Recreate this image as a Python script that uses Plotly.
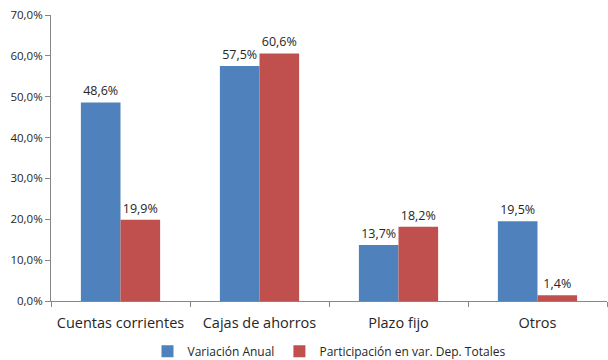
import plotly.graph_objects as go

categorias = ["Cuentas corrientes", "Cajas de ahorros", "Plazo fijo", "Otros"]
variacion_anual = [48.6, 57.5, 13.7, 19.5]
participacion = [19.9, 60.6, 18.2, 1.4]
ytick_vals = [0, 10, 20, 30, 40, 50, 60, 70]
ytick_text = [f"{v:.1f}%".replace(".", ",") for v in ytick_vals]

FONT = "Open Sans, Liberation Sans, sans-serif"
TXT = "#262626"

fig = go.Figure()
fig.add_trace(go.Bar(
    x=categorias, y=variacion_anual, name="Variación Anual",
    marker=dict(color="#4F81BD", line=dict(width=0)),
    texttemplate="%{y:.1f}%", textposition="outside",
    textfont=dict(size=12.5, color=TXT, family=FONT), cliponaxis=False,
))
fig.add_trace(go.Bar(
    x=categorias, y=participacion, name="Participación en var. Dep. Totales",
    marker=dict(color="#C0504D", line=dict(width=0)),
    texttemplate="%{y:.1f}%", textposition="outside",
    textfont=dict(size=12.5, color=TXT, family=FONT), cliponaxis=False,
))

fig.update_layout(
    width=608, height=360,
    margin=dict(l=51, r=1, t=15, b=59, autoexpand=False),
    paper_bgcolor="white", plot_bgcolor="white",
    separators=",.",
    barmode="group", bargap=0.43, bargroupgap=0,
    font=dict(family=FONT, color=TXT),
    showlegend=True,
    legend=dict(orientation="h", x=0.5, xanchor="center",
                yref="paper", y=-0.125, yanchor="top",
                font=dict(size=12, color=TXT, family=FONT),
                itemwidth=30, traceorder="normal"),
)
fig.update_xaxes(
    showline=True, linecolor="#868686", linewidth=1,
    ticks="outside", tickson="boundaries", ticklen=5, tickcolor="#868686",
    ticklabelstandoff=9,
    tickfont=dict(size=14.5, color=TXT, family=FONT), showgrid=False,
)
fig.update_yaxes(
    range=[0, 70], tickvals=ytick_vals, ticktext=ytick_text,
    showline=True, linecolor="#868686", linewidth=1,
    ticks="outside", ticklen=5, tickcolor="#868686",
    tickfont=dict(size=11.5, color=TXT, family=FONT),
    showgrid=False, zeroline=False,
)

fig.write_html("out.html")
